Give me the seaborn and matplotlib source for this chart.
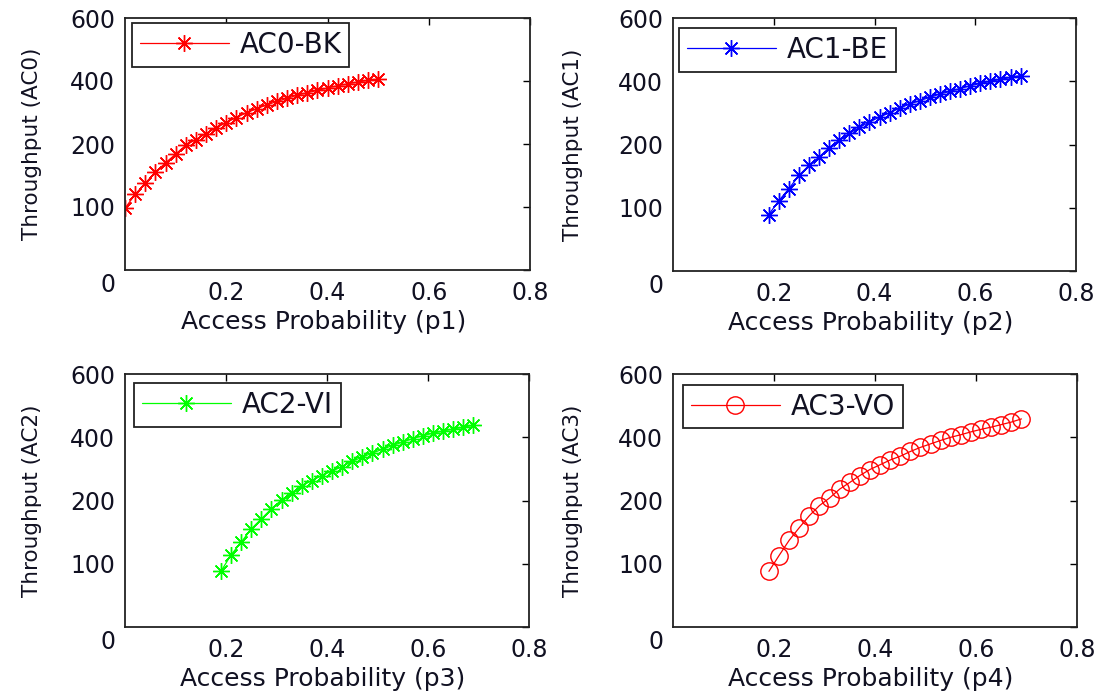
import numpy as np
import pandas as pd
import matplotlib
matplotlib.use("Agg")
import matplotlib.pyplot as plt
import seaborn as sns

# ---- data ----
p1 = [0.00, 0.02, 0.04, 0.06, 0.08, 0.10, 0.12, 0.14, 0.16, 0.18, 0.20, 0.22, 0.24,
      0.26, 0.28, 0.30, 0.32, 0.34, 0.36, 0.38, 0.40, 0.42, 0.44, 0.46, 0.48, 0.50]
p_hi = [0.19, 0.21, 0.23, 0.25, 0.27, 0.29, 0.31, 0.33, 0.35, 0.37, 0.39, 0.41, 0.43,
        0.45, 0.47, 0.49, 0.51, 0.53, 0.55, 0.57, 0.59, 0.61, 0.63, 0.65, 0.67, 0.69]
ac0_bk = [98, 120, 138, 155, 170, 184, 198, 214, 233, 251, 268, 284, 299,
          312, 324, 335, 345, 355, 363, 370, 378, 385, 391, 397, 402, 406]
ac1_be = [89, 111, 130, 151, 167, 180, 195, 214, 235, 254, 271, 287, 300,
          315, 328, 339, 349, 360, 368, 377, 386, 393, 400, 406, 412, 418]
ac2_vi = [88, 114, 134, 155, 171, 187, 202, 224, 246, 263, 279, 293, 307,
          324, 337, 350, 362, 374, 385, 396, 405, 413, 420, 426, 432, 438]
ac3_vo = [88, 113, 137, 157, 176, 192, 208, 236, 257, 279, 298, 313, 328,
          340, 355, 368, 379, 390, 400, 408, 417, 425, 432, 440, 448, 458]

series_names = ["AC0-BK", "AC1-BE", "AC2-VI", "AC3-VO"]
ylabels = ["Throughput (AC0)", "Throughput (AC1)", "Throughput (AC2)", "Throughput (AC3)"]
xlabels = ["Access Probability (p1)", "Access Probability (p2)",
           "Access Probability (p3)", "Access Probability (p4)"]
ytick_vals = [0, 100, 200, 400, 600]
ytick_labels = ["", "100", "200", "400", "600"]
xtick_vals = [0.2, 0.4, 0.6, 0.8]
xtick_labels = ["0.2", "0.4", "0.6", "0.8"]

xs = [p1, p_hi, p_hi, p_hi]
ys = [ac0_bk, ac1_be, ac2_vi, ac3_vo]
colors = ["#ff0000", "#0000ff", "#00ff00", "#ff0000"]
markers = [(8, 2, 0), (8, 2, 0), (8, 2, 0), "o"]

sns.set_style("white")
plt.rcParams["font.family"] = ["DejaVu Sans"]

fig = plt.figure(figsize=(11.04, 6.93), dpi=100)
W, H = 1104, 693
# axes boxes in pixels: (left, top, right, bottom)
boxes = [(125, 18, 530, 270), (673, 18, 1076, 271),
         (125, 374, 529, 627), (673, 374, 1077, 627)]
legend_anchor = [(0.017, 0.98), (0.015, 0.96), (0.022, 0.964), (0.025, 0.957)]
ylab_x = [-0.205, -0.223, -0.205, -0.223]

def fwd(v):
    return np.interp(v, [0, 100, 200, 400, 600], [0, 1, 2, 3, 4])

def inv(v):
    return np.interp(v, [0, 1, 2, 3, 4], [0, 100, 200, 400, 600])

txt_color = "#111122"

for i in range(4):
    l, t, r, b = boxes[i]
    ax = fig.add_axes([l / W, 1 - b / H, (r - l) / W, (b - t) / H])
    df = pd.DataFrame({"p": xs[i], "thr": ys[i]})
    mfc = "none" if markers[i] == "o" else colors[i]
    ms = 12.5 if markers[i] == "o" else 12
    sns.lineplot(data=df, x="p", y="thr", ax=ax, color=colors[i], marker=markers[i],
                 markersize=ms, markeredgecolor=colors[i], markerfacecolor=mfc,
                 markeredgewidth=1.0, linewidth=0.9, label=series_names[i])
    ax.set_yscale("function", functions=(fwd, inv))
    ax.set_xlim(0, 0.8)
    ax.set_ylim(0, 600)
    ax.set_yticks(ytick_vals)
    ax.set_yticklabels(ytick_labels)
    ax.set_xticks(xtick_vals)
    ax.set_xticklabels(xtick_labels)
    ax.minorticks_off()
    ax.tick_params(axis="both", direction="in", length=5, width=1.0, color="black",
                   labelsize=17, labelcolor=txt_color, top=True, right=True)
    ax.tick_params(axis="y", pad=7)
    ax.tick_params(axis="x", pad=8)
    for s in ax.spines.values():
        s.set_visible(True)
        s.set_color("#222222")
        s.set_linewidth(1.3)
    ax.set_xlabel(xlabels[i], fontsize=18, color=txt_color)
    ax.set_ylabel(ylabels[i], fontsize=15.5, color=txt_color)
    ax.xaxis.set_label_coords(0.49, -0.16)
    ax.yaxis.set_label_coords(ylab_x[i], 0.5)
    ax.annotate("0", xy=(0, 0), xycoords="axes fraction", xytext=(-10, -15),
                textcoords="offset pixels", ha="right", va="center",
                fontsize=17, color=txt_color)
    leg = ax.legend(loc="upper left", bbox_to_anchor=legend_anchor[i], borderaxespad=0,
                    fontsize=20, handlelength=3.2, handletextpad=0.4, borderpad=0.28,
                    fancybox=False, framealpha=1, edgecolor="#222222", numpoints=1)
    leg.get_frame().set_linewidth(1.3)
    for txt in leg.get_texts():
        txt.set_color(txt_color)
    ax.grid(False)

fig.savefig("out.png", dpi=100)
